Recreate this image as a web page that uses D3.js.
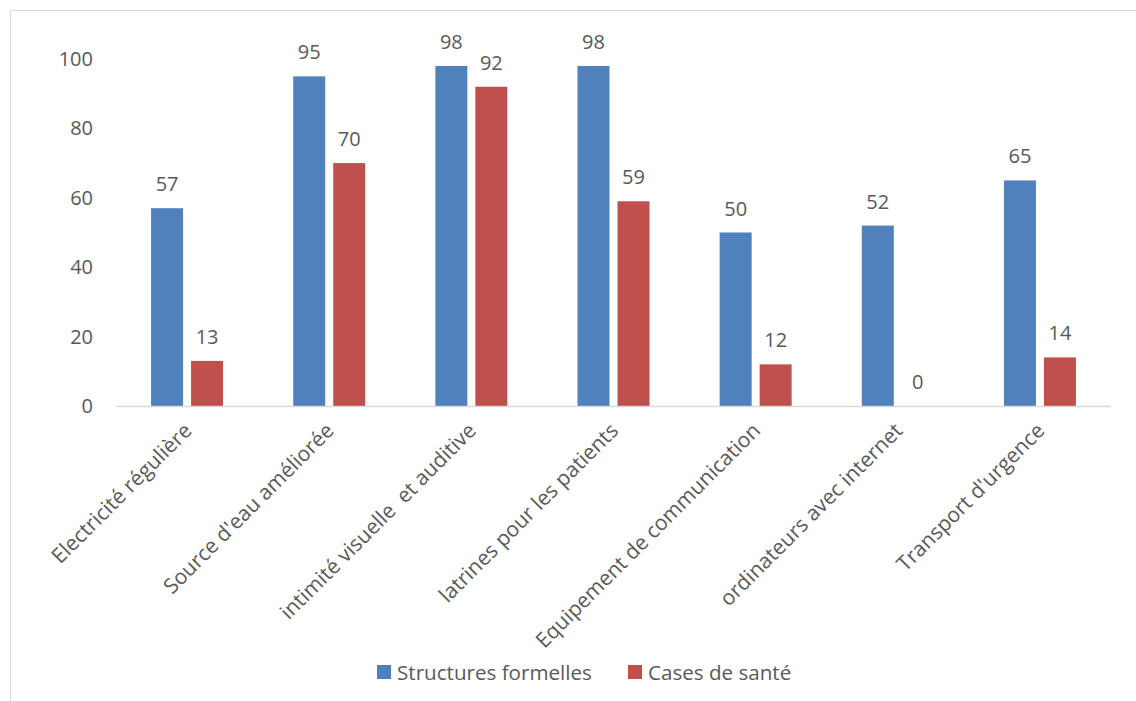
<!DOCTYPE html>
<html>
<head>
<meta charset="utf-8">
<script src="https://cdn.jsdelivr.net/npm/d3@7"></script>
<style>
  body { margin: 0; background: #fff; }
  text { font-family: "Open Sans", "DejaVu Sans", sans-serif; fill: #595959; white-space: pre; }
</style>
</head>
<body>
<div id="chart"></div>
<script>
// data
var categories = ["Electricité régulière", "Source d'eau améliorée", "intimité visuelle  et auditive",
                  "latrines pour les patients", "Equipement de communication", "ordinateurs avec internet",
                  "Transport d'urgence"];
var seriesNames = ["Structures formelles", "Cases de santé"];
var structures = [57, 95, 98, 98, 50, 52, 65];
var cases = [13, 70, 92, 59, 12, 0, 14];
var yTicks = [0, 20, 40, 60, 80, 100];
var colors = ["#4F81BD", "#C0504D"];

var width = 1136, height = 701;
var margin = {top: 59, left: 116, right: 25, bottom: 295};

var svg = d3.select("#chart").append("svg")
    .attr("width", width)
    .attr("height", height);

// chart frame (only top/left visible in the picture)
svg.append("rect")
    .attr("x", 10.5).attr("y", 10.5)
    .attr("width", width).attr("height", height)
    .attr("fill", "none")
    .attr("stroke", "#d9d9d9");

var x0 = d3.scaleBand()
    .domain(categories)
    .range([margin.left, width - margin.right]);

var x1 = d3.scaleBand()
    .domain(seriesNames)
    .range([x0.bandwidth() / 2 - 36, x0.bandwidth() / 2 + 36])
    .paddingInner(0.2);

var y = d3.scaleLinear()
    .domain([0, 100])
    .range([406, margin.top]);

// y tick labels (no gridlines)
svg.append("g")
    .attr("transform", "translate(93,0)")
    .call(d3.axisLeft(y).tickValues(yTicks).tickSize(0).tickPadding(0))
    .call(function(g) { g.select(".domain").remove(); })
    .selectAll("text")
    .style("font-size", "20px")
    .attr("fill", "#595959");

var rows = categories.map(function(c, i) {
  return {cat: c, values: [structures[i], cases[i]]};
});

var groups = svg.selectAll(".grp")
    .data(rows)
    .enter().append("g")
    .attr("class", "grp")
    .attr("transform", function(d) { return "translate(" + x0(d.cat) + ",0)"; });

groups.selectAll("rect")
    .data(function(d) { return d.values.map(function(v, j) { return {s: seriesNames[j], v: v, j: j}; }); })
    .enter().append("rect")
    .attr("x", function(d) { return x1(d.s); })
    .attr("y", function(d) { return y(d.v); })
    .attr("width", x1.bandwidth())
    .attr("height", function(d) { return y(0) - y(d.v); })
    .attr("fill", function(d) { return colors[d.j]; });

groups.selectAll(".lbl")
    .data(function(d) { return d.values.map(function(v, j) { return {s: seriesNames[j], v: v}; }); })
    .enter().append("text")
    .attr("class", "lbl")
    .attr("x", function(d) { return x1(d.s) + x1.bandwidth() / 2; })
    .attr("y", function(d) { return y(d.v) - 17; })
    .attr("text-anchor", "middle")
    .style("font-size", "20px")
    .text(function(d) { return d.v; });

// baseline
svg.append("line")
    .attr("x1", margin.left).attr("x2", width - margin.right)
    .attr("y1", y(0) + 0.5).attr("y2", y(0) + 0.5)
    .attr("stroke", "#d9d9d9")
    .attr("stroke-width", 1.5);

// rotated category labels
svg.selectAll(".cat")
    .data(categories)
    .enter().append("text")
    .attr("class", "cat")
    .attr("text-anchor", "end")
    .attr("transform", function(d) {
      return "translate(" + (x0(d) + x0.bandwidth() / 2 + 6) + ",432) rotate(-45)";
    })
    .style("font-size", "21px")
    .text(function(d) { return d; });

// legend
var legend = svg.append("g").attr("transform", "translate(377,665)");
var legX = [0, 251];
seriesNames.forEach(function(s, i) {
  legend.append("rect")
      .attr("x", legX[i]).attr("y", 0)
      .attr("width", 14).attr("height", 14)
      .attr("fill", colors[i]);
  legend.append("text")
      .attr("x", legX[i] + 20).attr("y", 14.5)
      .style("font-size", "20.6px")
      .text(s);
});
</script>
</body>
</html>
